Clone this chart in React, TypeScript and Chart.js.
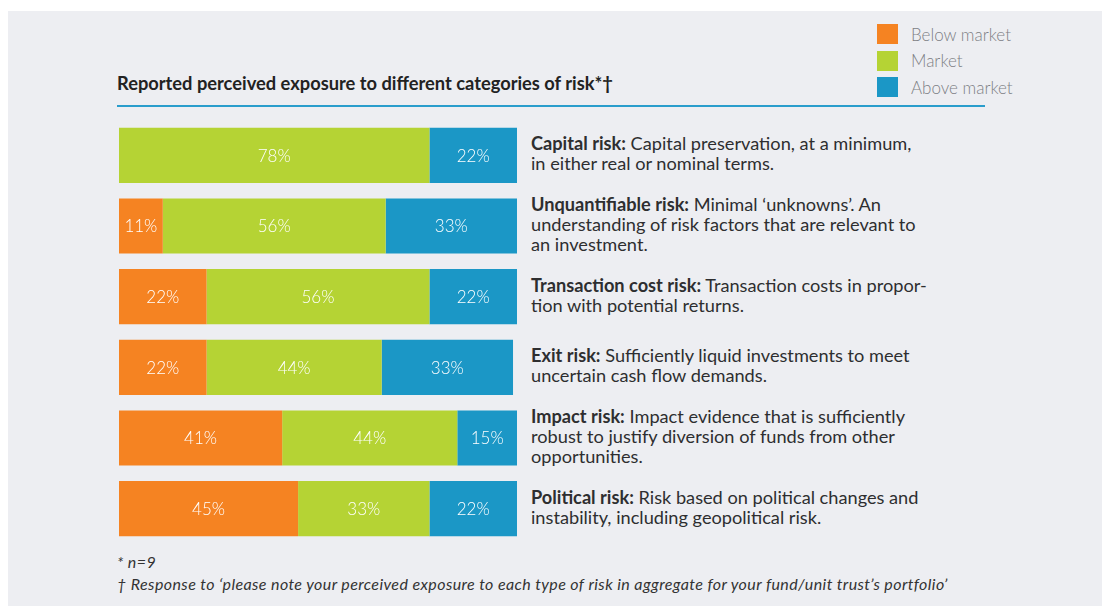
import React, { useEffect, useRef } from "react";
import { Chart, registerables } from "chart.js";

Chart.register(...registerables);

const categories = ["Capital risk", "Unquantifiable risk", "Transaction cost risk", "Exit risk", "Impact risk", "Political risk"];
const belowMarket = [0, 11, 22, 22, 41, 45];
const market = [78, 56, 56, 44, 44, 33];
const aboveMarket = [22, 33, 22, 33, 15, 22];
const seriesNames = ["Below market", "Market", "Above market"];
const seriesColors = ["#f58322", "#b5d334", "#1b97c6"];

const descriptions: { bold: string; lines: string[] }[] = [
  { bold: "Capital risk:", lines: [" Capital preservation, at a minimum,", "in either real or nominal terms."] },
  { bold: "Unquantifiable risk:", lines: [" Minimal ‘unknowns’. An", "understanding of risk factors that are relevant to", "an investment."] },
  { bold: "Transaction cost risk:", lines: [" Transaction costs in propor-", "tion with potential returns."] },
  { bold: "Exit risk:", lines: [" Sufficiently liquid investments to meet", "uncertain cash flow demands."] },
  { bold: "Impact risk:", lines: [" Impact evidence that is sufficiently", "robust to justify diversion of funds from other", "opportunities."] },
  { bold: "Political risk:", lines: [" Risk based on political changes and", "instability, including geopolitical risk."] },
];

const titleText = "Reported perceived exposure to different categories of risk*†";
const footnotes = ["* n=9", "† Response to ‘please note your perceived exposure to each type of risk in aggregate for your fund/unit trust’s portfolio’"];

const labelPlugin = {
  id: "segmentLabels",
  afterDatasetsDraw(chart: any) {
    const ctx = chart.ctx;
    ctx.save();
    ctx.fillStyle = "#ffffff";
    ctx.font = "300 17px Lato";
    ctx.textAlign = "center";
    ctx.textBaseline = "middle";
    chart.data.datasets.forEach((ds: any, di: number) => {
      const meta = chart.getDatasetMeta(di);
      meta.data.forEach((el: any, i: number) => {
        const v = ds.data[i];
        if (!v) return;
        const cx = (el.x + el.base) / 2;
        ctx.fillText(v + "%", cx, el.y + 1);
      });
    });
    ctx.restore();
  },
};

export default function App() {
  const canvasRef = useRef<HTMLCanvasElement | null>(null);

  useEffect(() => {
    document.body.style.margin = "0";
    const chart = new Chart(canvasRef.current as HTMLCanvasElement, {
      type: "bar",
      data: {
        labels: categories,
        datasets: [belowMarket, market, aboveMarket].map((d, i) => ({
          label: seriesNames[i],
          data: d,
          backgroundColor: seriesColors[i],
          borderWidth: 0,
          barPercentage: 0.78,
          categoryPercentage: 1,
        })),
      },
      options: {
        indexAxis: "y",
        animation: false,
        responsive: false,
        maintainAspectRatio: false,
        layout: { padding: 0 },
        plugins: { legend: { display: false }, tooltip: { enabled: false }, title: { display: false } },
        scales: {
          x: { stacked: true, min: 0, max: 100, display: false },
          y: { stacked: true, display: false },
        },
      },
      plugins: [labelPlugin],
    });
    return () => chart.destroy();
  }, []);

  return (
    <div style={{ position: "fixed", left: 0, top: 0, width: 1102, height: 606, background: "#ffffff", overflow: "hidden", fontFamily: "Lato, 'Open Sans', sans-serif" }}>
      <div style={{ position: "absolute", left: 8, top: 11, right: 0, bottom: 0, background: "#edeef2" }} />
      <div style={{ position: "absolute", left: 117, top: 71, fontWeight: 700, fontSize: 18.3, color: "#222", whiteSpace: "nowrap", lineHeight: "24px" }}>{titleText}</div>
      <div style={{ position: "absolute", left: 117, top: 105, width: 868, height: 2, background: "#2a9dcc" }} />
      {seriesNames.map((n, i) => (
        <div key={n} style={{ position: "absolute", left: 877, top: 24 + i * 26.5, height: 20, display: "flex", alignItems: "center" }}>
          <div style={{ width: 21, height: 20, background: seriesColors[i] }} />
          <div style={{ marginLeft: 13, fontSize: 17, fontWeight: 300, color: "#7d7f85", whiteSpace: "nowrap" }}>{n}</div>
        </div>
      ))}
      <canvas ref={canvasRef} width={398} height={424} style={{ position: "absolute", left: 119, top: 120, width: 398, height: 424 }} />
      <div style={{ position: "absolute", left: 531, top: 118, height: 424, width: 540, display: "flex", flexDirection: "column" }}>
        {descriptions.map((d, i) => (
          <div key={i} style={{ flex: 1, display: "flex", alignItems: "center" }}>
            <div style={{ fontSize: 18.2, lineHeight: "20px", color: "#2e2e30", whiteSpace: "nowrap" }}>
              <span style={{ fontWeight: 700 }}>{d.bold}</span>
              {d.lines.map((l, j) => (
                <React.Fragment key={j}>
                  {j > 0 ? <br /> : null}
                  {l}
                </React.Fragment>
              ))}
            </div>
          </div>
        ))}
      </div>
      <div style={{ position: "absolute", left: 117, top: 551, fontStyle: "italic", fontSize: 16, letterSpacing: 0.4, lineHeight: "22px", color: "#333", whiteSpace: "nowrap" }}>
        {footnotes.map((f, i) => (
          <div key={i}>{f}</div>
        ))}
      </div>
    </div>
  );
}
